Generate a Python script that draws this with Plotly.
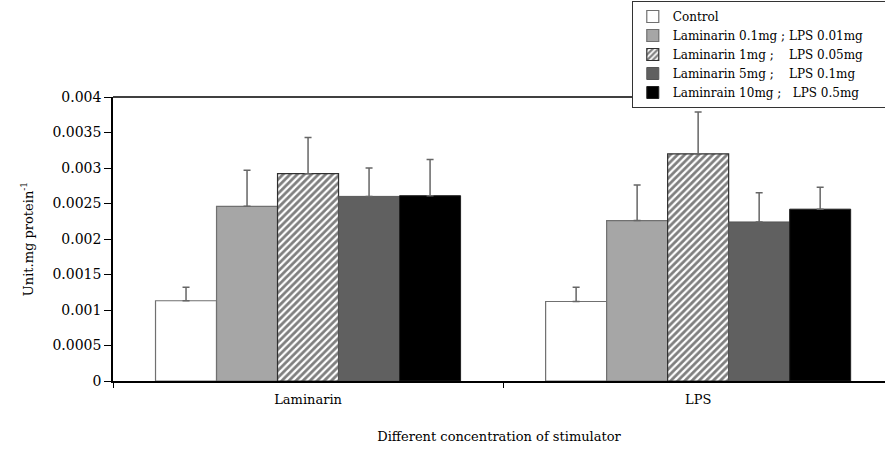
import plotly.graph_objects as go

categories = ["Laminarin", "LPS"]
series_names = [
    "Control",
    "Laminarin 0.1mg ; LPS 0.01mg\u00a0\u00a0\u00a0\u00a0\u00a0",
    "Laminarin 1mg ;\u00a0\u00a0\u00a0 LPS 0.05mg",
    "Laminarin 5mg ;\u00a0\u00a0\u00a0 LPS 0.1mg",
    "Laminrain 10mg ;\u00a0\u00a0 LPS 0.5mg",
]
control = [0.00113, 0.00112]
conc1 = [0.00246, 0.00226]
conc2 = [0.00292, 0.00320]
conc3 = [0.00260, 0.00224]
conc4 = [0.00261, 0.00242]
err_control = [0.00019, 0.00020]
err_conc1 = [0.00051, 0.00050]
err_conc2 = [0.00051, 0.00059]
err_conc3 = [0.00040, 0.00041]
err_conc4 = [0.00051, 0.00031]

y_tickvals = [0, 0.0005, 0.001, 0.0015, 0.002, 0.0025, 0.003, 0.0035, 0.004]
y_ticktext = ["0", "0.0005", "0.001", "0.0015", "0.002", "0.0025", "0.003", "0.0035", "0.004"]

values = [control, conc1, conc2, conc3, conc4]
errors = [err_control, err_conc1, err_conc2, err_conc3, err_conc4]

styles = [
    dict(color="white", line=dict(color="#707070", width=1.2)),
    dict(color="#a6a6a6", line=dict(color="#707070", width=1.2)),
    dict(color="white", line=dict(color="#303030", width=1.2),
         pattern=dict(shape="/", fgcolor="black", bgcolor="white", size=5, solidity=0.55)),
    dict(color="#555555", line=dict(color="#555555", width=1.0),
         pattern=dict(shape=".", fgcolor="#2a2a2a", bgcolor="#6e6e6e", size=2, solidity=0.5)),
    dict(color="black", line=dict(color="#202020", width=1.0)),
]

FONT = "DejaVu Serif"

fig = go.Figure()
for name, vals, errs, st in zip(series_names, values, errors, styles):
    fig.add_trace(go.Bar(
        name=name,
        x=categories,
        y=vals,
        marker=st,
        error_y=dict(type="data", array=errs, arrayminus=[0] * len(errs),
                     symmetric=False, color="#666666", thickness=1.5, width=3.5),
    ))

fig.update_layout(
    width=885, height=460,
    margin=dict(l=113, r=0, t=97, b=79, autoexpand=False),
    paper_bgcolor="white", plot_bgcolor="white",
    barmode="group", bargap=0.218, bargroupgap=0,
    font=dict(family=FONT, size=13, color="black"),
    showlegend=True,
    legend=dict(
        x=0.672, y=1.338, xanchor="left", yanchor="top",
        bgcolor="white", bordercolor="#333333", borderwidth=1,
        font=dict(family=FONT, size=12, color="black"),
        tracegroupgap=0, itemwidth=30,
    ),
    xaxis=dict(
        type="category", range=[-0.5, 1.479],
        showline=True, linecolor="black", linewidth=1.5, mirror=False,
        ticks="outside", tickson="boundaries", ticklen=5, tickcolor="black",
        showgrid=False, zeroline=False,
        ticklabelstandoff=6,
        tickfont=dict(family=FONT, size=13),
        title=dict(text="Different concentration of stimulator", standoff=26,
                   font=dict(family=FONT, size=13)),
    ),
    yaxis=dict(
        range=[0, 0.004],
        tickvals=y_tickvals, ticktext=y_ticktext,
        showline=True, linecolor="black", linewidth=1.5,
        ticks="outside", ticklen=7, tickcolor="black",
        showgrid=False, zeroline=False,
        tickfont=dict(family=FONT, size=14),
        title=dict(text="Unit.mg protein<sup>-1</sup>", standoff=16,
                   font=dict(family=FONT, size=13)),
    ),
    shapes=[dict(type="line", xref="paper", yref="paper", x0=0, x1=1, y0=1, y1=1,
                 line=dict(color="black", width=1.5))],
)

fig.write_html("out.html")
